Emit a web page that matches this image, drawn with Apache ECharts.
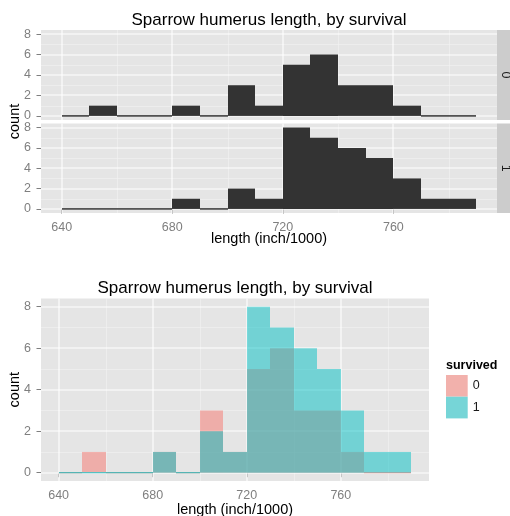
<!DOCTYPE html>
<html>
<head>
<meta charset="utf-8">
<script src="https://cdn.jsdelivr.net/npm/echarts@6/dist/echarts.min.js"></script>
<style>
  html, body { margin: 0; padding: 0; background: #ffffff; }
  #chart { width: 510px; height: 516px; }
</style>
</head>
<body>
<div id="chart"></div>
<script>
// Sparrow humerus length histograms (bin width 10), split by survival
const binStarts = [640, 650, 660, 670, 680, 690, 700, 710, 720, 730, 740, 750, 760, 770, 780];
const binWidth = 10;
const countDied = [0, 1, 0, 0, 1, 0, 3, 1, 5, 6, 3, 3, 1, 0, 0];
const countSurvived = [0, 0, 0, 0, 1, 0, 2, 1, 8, 7, 6, 5, 3, 1, 1];
const groupLabels = ['0', '1'];
const xTicks = [640, 680, 720, 760];
const xMinor = [660, 700, 740, 780];
const yTicks = [0, 2, 4, 6, 8];
const yMinor = [1, 3, 5, 7];
const titleText = 'Sparrow humerus length, by survival';
const xTitle = 'length (inch/1000)';
const yTitle = 'count';
const legendTitle = 'survived';

const FONT = '"Liberation Sans", Arial, Helvetica, sans-serif';

// axis limits with ggplot-style 5% expansion
const xLo = binStarts[0], xHi = binStarts[binStarts.length - 1] + binWidth;
const xPad = (xHi - xLo) * 0.05;
const yLo = 0, yHi = 8;
const yPad = (yHi - yLo) * 0.05;

function binData(counts) {
  return binStarts.map((s, i) => [s, s + binWidth, counts[i]]);
}

const fillDark = '#333333';
const fillDied = '#F8766D';
const fillSurv = '#00BFC4';

function barSeries(name, counts, gridIdx, color, opacity) {
  return {
    type: 'custom',
    name: name,
    xAxisIndex: gridIdx,
    yAxisIndex: gridIdx,
    z: 3,
    silent: true,
    encode: { x: [0, 1], y: 2 },
    data: binData(counts),
    renderItem: function (params, api) {
      const a = api.coord([api.value(0), api.value(2)]);
      const b = api.coord([api.value(1), 0]);
      // snap bin edges to whole pixels so neighbouring bars meet without seams
      const x0 = Math.round(a[0]), x1 = Math.round(b[0]);
      const h = b[1] - a[1];
      return {
        type: 'rect',
        shape: { x: x0, y: a[1], width: x1 - x0, height: h },
        style: {
          fill: color,
          opacity: opacity,
          stroke: h < 0.5 ? color : null,
          lineWidth: h < 0.5 ? 1 : 0
        }
      };
    }
  };
}

// panel grid lines drawn through the axis scales
function gridLineSeries(gridIdx) {
  const items = [];
  xMinor.forEach(v => items.push([v, 0, 0]));
  yMinor.forEach(v => items.push([v, 1, 0]));
  xTicks.forEach(v => items.push([v, 0, 1]));
  yTicks.forEach(v => items.push([v, 1, 1]));
  return {
    type: 'custom',
    xAxisIndex: gridIdx,
    yAxisIndex: gridIdx,
    z: 1,
    silent: true,
    encode: { x: -1, y: -1 },
    data: items,
    renderItem: function (params, api) {
      const cs = params.coordSys;
      const v = api.value(0), vertical = api.value(1) === 0, major = api.value(2) === 1;
      const style = { stroke: major ? '#FFFFFF' : '#F2F2F2', lineWidth: major ? 1.1 : 0.6 };
      if (vertical) {
        const x = Math.round(api.coord([v, yLo])[0]) + (major ? 0 : 0.5);
        return { type: 'line', shape: { x1: x, y1: cs.y, x2: x, y2: cs.y + cs.height }, style: style };
      }
      const y = Math.round(api.coord([xLo, v])[1]) + (major ? 0 : 0.5);
      return { type: 'line', shape: { x1: cs.x, y1: y, x2: cs.x + cs.width, y2: y }, style: style };
    }
  };
}

const grids = [
  { left: 41, top: 30, width: 456, height: 90 },
  { left: 41, top: 123.5, width: 456, height: 89.5 },
  { left: 41, top: 298.4, width: 388, height: 182.6 }
].map(g => Object.assign({
  show: true, backgroundColor: '#E5E5E5', borderWidth: 0, containLabel: false
}, g));

const tickStyle = { show: true, length: 4.5, lineStyle: { color: '#7F7F7F', width: 1 } };
const labelStyle = { color: '#7F7F7F', fontSize: 12.5, fontFamily: FONT };

function xAxis(gridIdx, showLabels) {
  return {
    type: 'value', gridIndex: gridIdx,
    min: xLo - xPad, max: xHi + xPad,
    axisLine: { show: false },
    splitLine: { show: false },
    axisTick: Object.assign({ customValues: xTicks }, tickStyle, { show: showLabels }),
    axisLabel: Object.assign({ customValues: xTicks, margin: 8, show: showLabels }, labelStyle)
  };
}
function yAxis(gridIdx) {
  return {
    type: 'value', gridIndex: gridIdx,
    min: yLo - yPad, max: yHi + yPad,
    axisLine: { show: false },
    splitLine: { show: false },
    axisTick: Object.assign({ customValues: yTicks }, tickStyle),
    axisLabel: Object.assign({ customValues: yTicks, margin: 10 }, labelStyle)
  };
}

function txt(x, y, text, size, opts) {
  return {
    type: 'text', x: x, y: y, rotation: (opts && opts.rotation) || 0, z: 10,
    style: {
      text: text, fontSize: size, fontFamily: FONT,
      fontWeight: (opts && opts.bold) ? 'bold' : 'normal',
      fill: (opts && opts.color) || '#000000',
      align: (opts && opts.align) || 'center', verticalAlign: 'middle'
    }
  };
}

const graphics = [
  // facet strips
  { type: 'rect', shape: { x: 497, y: 30, width: 20, height: 90 }, style: { fill: '#CCCCCC' }, z: 5 },
  { type: 'rect', shape: { x: 497, y: 123.5, width: 20, height: 89.5 }, style: { fill: '#CCCCCC' }, z: 5 },
  txt(505.5, 75, groupLabels[0], 12.5, { rotation: -Math.PI / 2, color: '#1A1A1A' }),
  txt(505.5, 168.3, groupLabels[1], 12.5, { rotation: -Math.PI / 2, color: '#1A1A1A' }),
  // titles
  txt(269, 20.5, titleText, 17),
  txt(235, 288.3, titleText, 17),
  // axis titles
  txt(269, 239, xTitle, 14.5),
  txt(235, 509.5, xTitle, 14.5),
  txt(14.5, 121.5, yTitle, 14.5, { rotation: Math.PI / 2 }),
  txt(14.5, 389.7, yTitle, 14.5, { rotation: Math.PI / 2 }),
  // legend heading
  txt(446, 366, legendTitle, 12.5, { bold: true, align: 'left' })
];

const option = {
  animation: false,
  backgroundColor: '#FFFFFF',
  grid: grids,
  xAxis: [xAxis(0, false), xAxis(1, true), xAxis(2, true)],
  yAxis: [yAxis(0), yAxis(1), yAxis(2)],
  legend: {
    orient: 'vertical', left: 446, top: 375, padding: 0,
    itemWidth: 21.7, itemHeight: 21.7, itemGap: 0, icon: 'rect',
    selectedMode: false,
    textStyle: { fontSize: 12.5, fontFamily: FONT, color: '#1A1A1A' },
    data: [
      { name: groupLabels[0], itemStyle: { color: '#F2B1AC', opacity: 1, borderWidth: 0 } },
      { name: groupLabels[1], itemStyle: { color: '#76D5D7', opacity: 1, borderWidth: 0 } }
    ]
  },
  graphic: graphics,
  series: [
    gridLineSeries(0), gridLineSeries(1), gridLineSeries(2),
    barSeries('top-' + groupLabels[0], countDied, 0, fillDark, 1),
    barSeries('top-' + groupLabels[1], countSurvived, 1, fillDark, 1),
    barSeries(groupLabels[0], countDied, 2, fillDied, 0.5),
    barSeries(groupLabels[1], countSurvived, 2, fillSurv, 0.5)
  ]
};

const chart = echarts.init(document.getElementById('chart'), null, { renderer: 'canvas' });
chart.setOption(option);
</script>
</body>
</html>
